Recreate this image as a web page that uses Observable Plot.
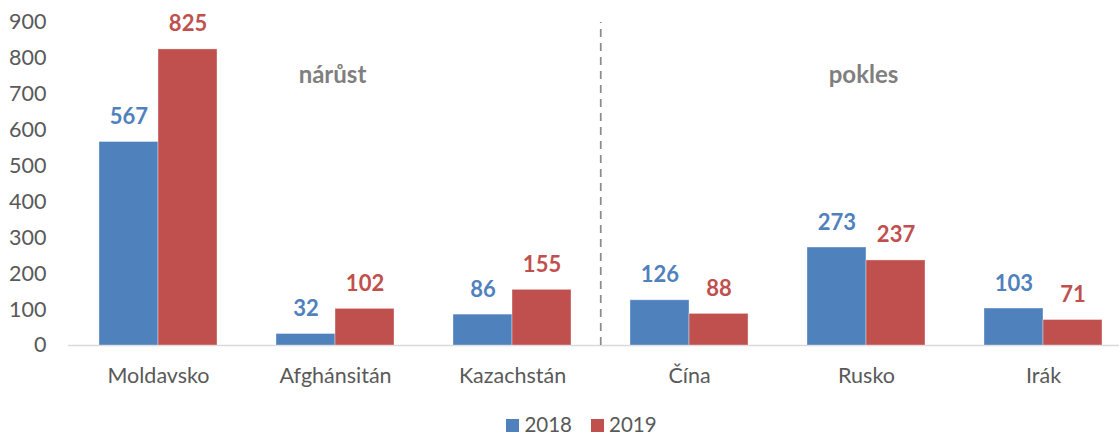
<!DOCTYPE html>
<html>
<head>
<meta charset="utf-8">
<script src="https://cdn.jsdelivr.net/npm/d3@7"></script>
<script src="https://cdn.jsdelivr.net/npm/@observablehq/plot@0.6"></script>
<style>
  body { margin: 0; background: #fff; font-family: Lato, "Open Sans", sans-serif; overflow: hidden; }
  #chart svg { display: block; }
  #legend { display: flex; justify-content: center; align-items: center; gap: 19px; font-size: 20.5px; line-height: 20px; height: 20px; color: #595959; margin-top: 14px; padding-left: 44px; }
  #legend span.sw { display: inline-block; width: 13px; height: 13px; margin-right: 5px; vertical-align: 0px; }
</style>
</head>
<body>
<div id="chart"></div>
<div id="legend"></div>
<script>
const categories = ["Moldavsko", "Afghánsitán", "Kazachstán", "Čína", "Rusko", "Irák"];
const values2018 = [567, 32, 86, 126, 273, 103];
const values2019 = [825, 102, 155, 88, 237, 71];
const yTicks = [0, 100, 200, 300, 400, 500, 600, 700, 800, 900];
const seriesNames = ["2018", "2019"];
const colors = ["#4F81BD", "#C0504D"];
const annotations = [
  {label: "nárůst", category: "Afghánsitán", value: 752},
  {label: "pokles", category: "Rusko", value: 752}
];
const dividerBefore = "Čína";

const rows2018 = categories.map((c, i) => ({category: c, value: values2018[i]}));
const rows2019 = categories.map((c, i) => ({category: c, value: values2019[i]}));

const W = 1119, H = 400;
const xRange = [68, 1133];
const step = (xRange[1] - xRange[0]) / categories.length;
const pInner = 0.335;
const half = step * (1 - pInner) / 2;

const chart = Plot.plot({
  width: W,
  height: H,
  marginLeft: 68,
  marginRight: 0,
  marginTop: 22,
  marginBottom: 55,
  style: {fontFamily: "Lato, 'Open Sans', sans-serif", fontSize: "21.5px", color: "#595959", background: "#fff"},
  x: {domain: categories, range: xRange, paddingInner: pInner, paddingOuter: pInner / 2, label: null, tickSize: 0, tickPadding: 22},
  y: {domain: [0, 900], ticks: yTicks, label: null, tickSize: 0, tickPadding: 22},
  marks: [
    Plot.ruleY([0], {stroke: "#d9d9d9", strokeWidth: 1.5}),
    Plot.barY(rows2018, {x: "category", y: "value", fill: colors[0], insetRight: half, stroke: "#ffffff", strokeOpacity: 0.35, strokeWidth: 1}),
    Plot.barY(rows2019, {x: "category", y: "value", fill: colors[1], insetLeft: half, stroke: "#ffffff", strokeOpacity: 0.35, strokeWidth: 1}),
    Plot.text(rows2018, {x: "category", y: "value", text: d => String(d.value), dx: -half / 2, dy: -25, fill: colors[0], fontWeight: "bold", fontSize: 22}),
    Plot.text(rows2019, {x: "category", y: "value", text: d => String(d.value), dx: half / 2, dy: -25, fill: colors[1], fontWeight: "bold", fontSize: 22}),
    Plot.ruleX([dividerBefore], {x: d => d, y1: 0, y2: 900, dx: -step / 2, stroke: "#8c8c8c", strokeWidth: 1.75, strokeDasharray: "8,6"}),
    Plot.text(annotations, {x: "category", y: "value", text: "label", dx: -3, fill: "#7f7f7f", fontWeight: "bold", fontSize: 24})
  ]
});
document.getElementById("chart").appendChild(chart);

const legend = document.getElementById("legend");
seriesNames.forEach((n, i) => {
  const item = document.createElement("div");
  item.innerHTML = `<span class="sw" style="background:${colors[i]}"></span>${n}`;
  legend.appendChild(item);
});
</script>
</body>
</html>
